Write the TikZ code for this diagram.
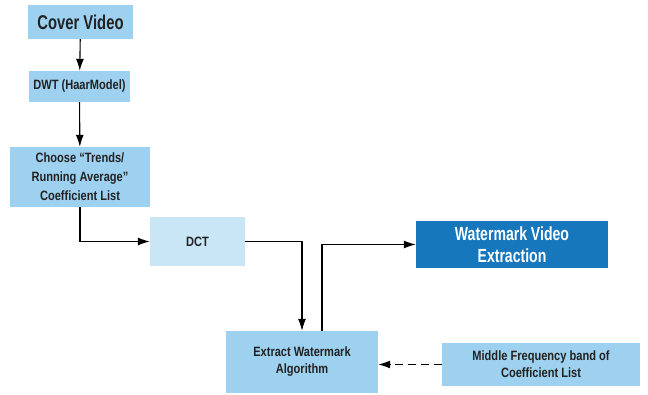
\documentclass[tikz,border=0pt]{standalone}
\usepackage{fontspec}
\usetikzlibrary{arrows.meta}
\setmainfont{Liberation Sans}[FakeStretch=0.82]
\newfontfamily\narrowfont{Liberation Sans}[FakeStretch=0.74]
\definecolor{boxblue}{HTML}{9DD1EF}
\definecolor{paleblue}{HTML}{C9E6F7}
\definecolor{deepblue}{HTML}{1677BD}
\definecolor{inkgray}{HTML}{222222}
\tikzset{
  stage/.style={fill=boxblue, text=inkgray, align=center, font=\bfseries\fontsize{13.5}{17}\selectfont, inner sep=1pt},
  link/.style={-{Latex[length=12pt,width=8pt]}, line width=1.1pt}
}
\begin{document}
\begin{tikzpicture}[x=1pt, y=-1pt]
  \useasboundingbox (0,0) rectangle (648,394);
  \node[stage, minimum width=105, minimum height=34, font=\narrowfont\bfseries\fontsize{20}{22}\selectfont] (cover) at (80.5,22) {Cover Video};
  \node[stage, minimum width=101, minimum height=31] (dwt) at (79.5,86.5) {DWT (HaarModel)};
  \node[stage, minimum width=140, minimum height=60, font=\bfseries\fontsize{13.5}{19}\selectfont] (choose) at (80,177) {Choose “Trends/\\Running Average”\\Coefficient List};
  \node[stage, fill=paleblue, minimum width=95, minimum height=49] (dct) at (197.5,241.5) {DCT};
  \node[stage, minimum width=152, minimum height=62] (extract) at (302,362) {Extract Watermark\\Algorithm};
  \node[stage, fill=deepblue, text=white, minimum width=192, minimum height=47, font=\narrowfont\bfseries\fontsize{19}{22}\selectfont] (result) at (512,244.5) {Watermark Video\\Extraction};
  \node[stage, minimum width=198, minimum height=43] (band) at (541,364.5) {Middle Frequency band of\\Coefficient List};
  \draw[link] (cover) -- (dwt);
  \draw[link] (dwt) -- (choose);
  \draw[link] (choose.south) |- (dct.west);
  \draw[link] (dct.east) -| (extract.north);
  \draw[link] ([xshift=20pt]extract.north) |- (result.west);
  \draw[link, dash pattern=on 8pt off 5pt] (band.west) -- (band.west -| extract.east);
\end{tikzpicture}
\end{document}
